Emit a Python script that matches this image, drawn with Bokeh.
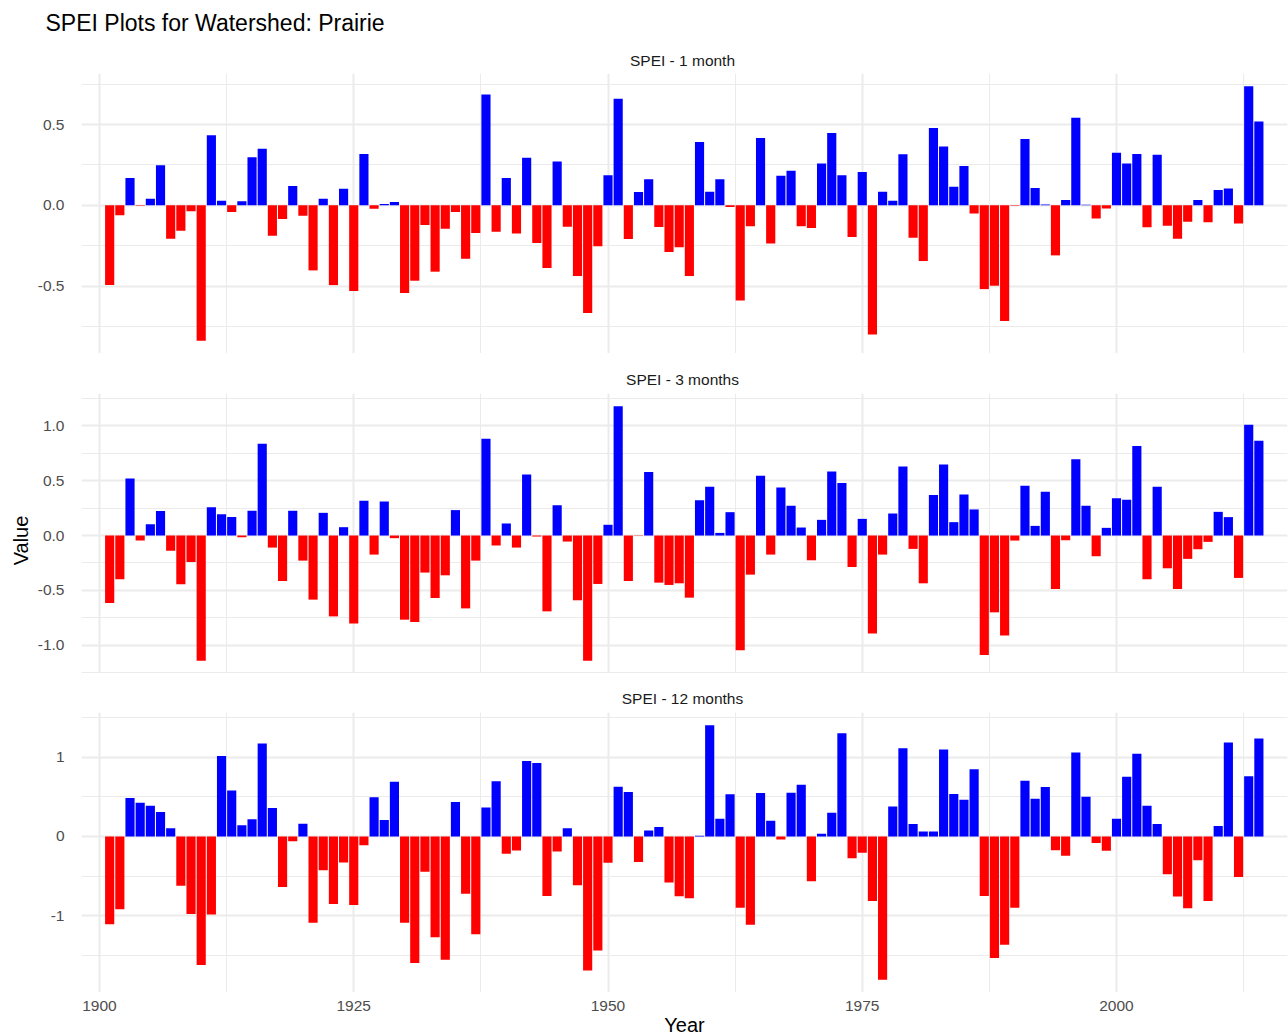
import math
from bokeh.plotting import figure
from bokeh.models import ColumnDataSource, FixedTicker, Range1d, Label, PrintfTickFormatter
from bokeh.layouts import column, row
from bokeh.embed import file_html
from bokeh.resources import INLINE

# ---------------- data ----------------
years = list(range(1901, 2015))

spei_1 = [
    -0.494, -0.062, 0.169, -0.002, 0.041, 0.248, -0.207, -0.157, -0.037, -0.839,
    0.434, 0.029, -0.041, 0.025, 0.298, 0.351, -0.188, -0.085, 0.120, -0.064,
    -0.403, 0.041, -0.494, 0.103, -0.531, 0.318, -0.021, 0.008, 0.020, -0.543,
    -0.467, -0.122, -0.411, -0.145, -0.041, -0.331, -0.171, 0.686, -0.163, 0.169,
    -0.174, 0.295, -0.233, -0.388, 0.271, -0.132, -0.438, -0.667, -0.254, 0.186,
    0.661, -0.209, 0.083, 0.161, -0.134, -0.289, -0.260, -0.438, 0.393, 0.085,
    0.161, -0.010, -0.589, -0.130, 0.417, -0.236, 0.184, 0.215, -0.130, -0.140,
    0.260, 0.448, 0.186, -0.196, 0.207, -0.800, 0.085, 0.029, 0.316, -0.200,
    -0.345, 0.479, 0.364, 0.116, 0.244, -0.050, -0.519, -0.498, -0.717, -0.003,
    0.411, 0.107, 0.006, -0.310, 0.033, 0.543, 0.004, -0.081, -0.019, 0.326,
    0.260, 0.318, -0.136, 0.314, -0.126, -0.207, -0.101, 0.033, -0.105, 0.095,
    0.105, -0.112, 0.738, 0.519,
]

spei_3 = [
    -0.616, -0.399, 0.521, -0.046, 0.104, 0.223, -0.140, -0.445, -0.241, -1.143,
    0.259, 0.195, 0.168, -0.015, 0.226, 0.838, -0.110, -0.415, 0.226, -0.229,
    -0.585, 0.207, -0.738, 0.076, -0.802, 0.317, -0.174, 0.311, -0.024, -0.768,
    -0.790, -0.338, -0.570, -0.363, 0.232, -0.665, -0.229, 0.884, -0.091, 0.110,
    -0.110, 0.558, -0.009, -0.692, 0.277, -0.055, -0.591, -1.143, -0.442, 0.098,
    1.180, -0.415, -0.003, 0.579, -0.430, -0.451, -0.436, -0.567, 0.323, 0.445,
    0.024, 0.213, -1.046, -0.357, 0.546, -0.174, 0.439, 0.271, 0.073, -0.226,
    0.143, 0.585, 0.479, -0.287, 0.152, -0.893, -0.174, 0.201, 0.631, -0.122,
    -0.436, 0.369, 0.649, 0.122, 0.375, 0.238, -1.091, -0.701, -0.912, -0.046,
    0.454, 0.088, 0.399, -0.488, -0.043, 0.695, 0.271, -0.189, 0.070, 0.341,
    0.326, 0.817, -0.399, 0.445, -0.299, -0.488, -0.213, -0.125, -0.058, 0.216,
    0.168, -0.387, 1.012, 0.866,
]

spei_12 = [
    -1.110, -0.920, 0.485, 0.426, 0.388, 0.308, 0.105, -0.624, -0.979, -1.624,
    -0.987, 1.017, 0.582, 0.143, 0.219, 1.173, 0.359, -0.637, -0.059, 0.160,
    -1.089, -0.426, -0.852, -0.329, -0.865, -0.110, 0.494, 0.207, 0.692, -1.089,
    -1.599, -0.447, -1.274, -1.557, 0.435, -0.722, -1.236, 0.367, 0.696, -0.219,
    -0.177, 0.954, 0.928, -0.751, -0.190, 0.105, -0.616, -1.692, -1.439, -0.333,
    0.629, 0.561, -0.321, 0.076, 0.118, -0.582, -0.755, -0.781, 0.008, 1.405,
    0.224, 0.532, -0.899, -1.114, 0.549, 0.198, -0.038, 0.553, 0.654, -0.565,
    0.034, 0.300, 1.304, -0.274, -0.207, -0.814, -1.810, 0.380, 1.114, 0.156,
    0.063, 0.063, 1.097, 0.536, 0.464, 0.848, -0.751, -1.536, -1.367, -0.899,
    0.705, 0.477, 0.624, -0.173, -0.245, 1.059, 0.502, -0.084, -0.181, 0.224,
    0.755, 1.046, 0.388, 0.156, -0.477, -0.759, -0.907, -0.300, -0.814, 0.131,
    1.186, -0.511, 0.759, 1.236,
]

panel_titles = ["SPEI - 1 month", "SPEI - 3 months", "SPEI - 12 months"]
main_title = "SPEI Plots for Watershed: Prairie"
x_title = "Year"
y_title = "Value"

x_ticks = [1900, 1925, 1950, 1975, 2000]
x_minor = [1912.5, 1937.5, 1962.5, 1987.5, 2012.5]
y_ticks = [[-0.5, 0.0, 0.5], [-1.0, -0.5, 0.0, 0.5, 1.0], [-1, 0, 1]]
y_minor = [[-0.75, -0.25, 0.25, 0.75],
           [-1.25, -0.75, -0.25, 0.25, 0.75, 1.25],
           [-1.5, -0.5, 0.5, 1.5]]
y_formats = ["%.1f", "%.1f", "%d"]

# ---------------- style / layout ----------------
POS = "#0000FF"
NEG = "#FF0000"
GRID = "#EBEBEB"
FONT = "Liberation Sans"
LEFT_W = 34          # strip holding the y-axis title
COL_W = 1254         # width of the panel column
FRAME_W = 1206
FRAME_H = 280
X_START = 1898.23
X_END = X_START + FRAME_W / 10.17


def text_fig(w, h, x0, x1, y_top, y_bot):
    """Blank figure whose frame fills the canvas; data units = page pixels."""
    f = figure(frame_width=w, frame_height=h,
               x_range=Range1d(x0, x1), y_range=Range1d(y_bot, y_top),
               x_axis_location=None, y_axis_location=None,
               output_backend="svg", toolbar_location=None,
               min_border=0, min_border_left=0, min_border_right=0,
               min_border_top=0, min_border_bottom=0, frame_align=False)
    f.outline_line_color = None
    f.xgrid.visible = False
    f.ygrid.visible = False
    f.background_fill_color = "white"
    f.border_fill_color = "white"
    return f


def add_text(f, x, y, txt, size, color, align="center", angle=0.0):
    f.add_layout(Label(x=x, y=y, text=txt, text_align=align,
                       text_baseline="middle", angle=angle,
                       text_font=FONT, text_font_size=size, text_color=color))


def make_panel(vals, yt, ym, fmt, show_x):
    src = ColumnDataSource(dict(
        year=years, value=vals,
        color=[POS if v >= 0 else NEG for v in vals]))
    lo, hi = min(vals), max(vals)
    pad = 0.05 * (hi - lo)
    p = figure(frame_width=FRAME_W, frame_height=FRAME_H,
               x_range=Range1d(X_START, X_END),
               y_range=Range1d(lo - pad, hi + pad),
               output_backend="svg", toolbar_location=None,
               min_border_left=45, min_border_right=3,
               min_border_top=0, min_border_bottom=0)
    p.vbar(x="year", top="value", bottom=0, width=0.9,
           fill_color="color", line_color=None, source=src)
    p.outline_line_color = None
    p.background_fill_color = "white"
    p.border_fill_color = "white"

    p.xaxis.ticker = FixedTicker(ticks=x_ticks, minor_ticks=x_minor)
    p.yaxis.ticker = FixedTicker(ticks=yt, minor_ticks=ym)
    p.yaxis.formatter = PrintfTickFormatter(format=fmt)

    for ax in (p.xaxis, p.yaxis):
        ax.axis_line_color = None
        ax.major_tick_line_color = None
        ax.minor_tick_line_color = None
        ax.major_tick_out = 0
        ax.major_tick_in = 0
        ax.minor_tick_out = 0
        ax.minor_tick_in = 0
        ax.major_label_text_font = FONT
        ax.major_label_text_font_size = "15.5px"
        ax.major_label_text_color = "#4D4D4D"
    p.yaxis.major_label_standoff = 17
    p.xaxis.major_label_standoff = 8
    p.xaxis.visible = show_x

    for g in (p.xgrid, p.ygrid):
        g.grid_line_color = GRID
        g.grid_line_width = 2
        g.minor_grid_line_color = GRID
        g.minor_grid_line_width = 1
    return p


# header: main title + first strip label (page y 0..73)
header = text_fig(COL_W, 73, LEFT_W, LEFT_W + COL_W, 0, 73)
add_text(header, 45, 22, main_title, "23px", "black", align="left")
add_text(header, 682, 60, panel_titles[0], "15.5px", "#1A1A1A")

p1 = make_panel(spei_1, y_ticks[0], y_minor[0], y_formats[0], False)

gap2 = text_fig(COL_W, 40, LEFT_W, LEFT_W + COL_W, 353, 393)
add_text(gap2, 682, 379, panel_titles[1], "15.5px", "#1A1A1A")

p2 = make_panel(spei_3, y_ticks[1], y_minor[1], y_formats[1], False)

gap3 = text_fig(COL_W, 39, LEFT_W, LEFT_W + COL_W, 673, 712)
add_text(gap3, 682, 698, panel_titles[2], "15.5px", "#1A1A1A")

p3 = make_panel(spei_12, y_ticks[2], y_minor[2], y_formats[2], True)
p3.xaxis.axis_label = x_title
p3.xaxis.axis_label_text_font = FONT
p3.xaxis.axis_label_text_font_size = "20px"
p3.xaxis.axis_label_text_font_style = "normal"
p3.xaxis.axis_label_text_color = "black"
p3.xaxis.axis_label_standoff = 0

left = text_fig(LEFT_W, 1034, 0, LEFT_W, 0, 1034)
add_text(left, 20, 540, y_title, "20px", "black", angle=math.pi / 2)

layout = row(left, column(header, p1, gap2, p2, gap3, p3, spacing=0), spacing=0)

open("out.html", "w").write(file_html(layout, INLINE))
